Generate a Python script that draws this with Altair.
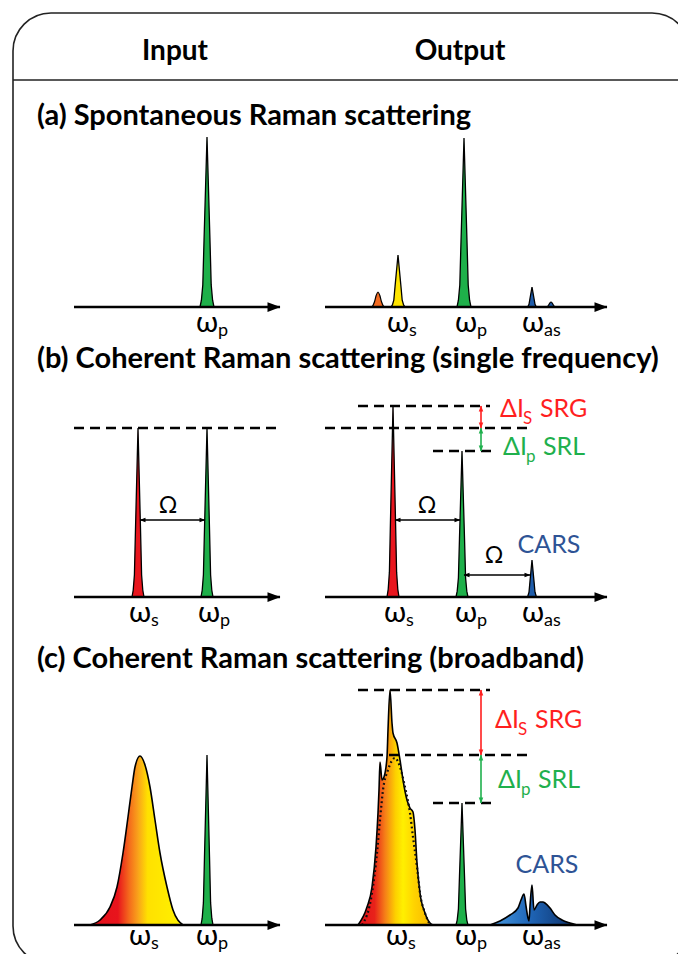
import altair as alt
import pandas as pd

# ---------------- colours ----------------
RED = "#e8161e"
GREEN = "#1eb04a"
YELLOW = "#ffe500"
ORANGE = "#f36b21"
BLUE = "#1f5ca9"
TXT_RED = "#ff1f1f"
TXT_GREEN = "#1fb04d"
TXT_BLUE = "#2e5395"
FONT = "Lato, 'Open Sans', sans-serif"

# ---------------- data (positions in the figure's own pixel frame) ----------------
# narrow spectral lines: centre, top, baseline, half base width, fill
spike_centre = [207, 398, 464, 532, 138, 207, 393, 462, 532, 207, 462]
spike_top = [137, 255, 138, 287, 428, 428, 406, 451, 560, 755, 803]
spike_base = [307, 307, 307, 307, 597, 597, 597, 597, 597, 925, 925]
spike_half = [7, 7, 7, 5, 6, 6, 6, 6, 5, 6, 6]
spike_fill = [GREEN, YELLOW, GREEN, BLUE, RED, GREEN, RED, GREEN, BLUE, GREEN, GREEN]
SPIKE_DX = [-1, -0.8, -0.6, -0.42, 0, 0.42, 0.6, 0.8, 1]
SPIKE_H = [0, 0.04, 0.13, 0.4, 1, 0.4, 0.13, 0.04, 0]

# small rounded bumps
bump_centre = [378, 551]
bump_top = [292, 302]
bump_base = [307, 307]
bump_half = [7, 5]
bump_fill = [ORANGE, BLUE]
BUMP_DX = [-1, -0.75, -0.5, -0.25, 0, 0.25, 0.5, 0.75, 1]
BUMP_H = [0, 0.08, 0.35, 0.78, 1, 0.78, 0.35, 0.08, 0]

# broadband Stokes pulse (input, panel c)
stokes_in_x = [90, 100, 110, 117, 123, 128, 132, 135, 140, 145, 150, 155, 160, 167, 173, 183]
stokes_in_y = [925, 920, 907, 887, 853, 817, 787, 767, 756, 765, 787, 820, 853, 887, 910, 925]

# broadband Stokes pulse after SRG (output, panel c)
stokes_out_x = [358, 367, 372, 376, 378, 379, 380, 382, 384, 387, 388, 390, 392, 393, 397, 400,
                403, 407, 410, 413, 415, 417, 420, 425, 430, 433]
stokes_out_y = [925, 907, 887, 847, 813, 790, 762, 780, 777, 757, 730, 690, 723, 733, 743, 760,
                780, 800, 808, 812, 830, 863, 893, 913, 923, 925]

# original Stokes profile (dotted, output panel c)
stokes_ref_x = [362, 372, 377, 380, 383, 388, 395, 400, 405, 410, 413, 417, 420, 425, 430]
stokes_ref_y = [925, 893, 853, 820, 790, 770, 758, 767, 787, 813, 837, 867, 893, 913, 925]

# broadband CARS (output, panel c)
cars_x = [490, 500, 510, 518, 521, 524, 526, 528, 529, 530, 532, 534, 537, 540, 543, 545,
          550, 555, 562, 570, 577]
cars_y = [925, 921, 915, 908, 900, 894, 906, 918, 921, 906, 885, 910, 905, 902, 902, 903,
          908, 915, 920, 923, 925]

# frequency axes (with arrow heads)
axis_x0 = [74, 325, 74, 325, 74, 325]
axis_x1 = [280, 607, 280, 607, 280, 607]
axis_y = [307, 307, 597, 597, 925, 925]

# dashed intensity levels
dash_x0 = [74, 358, 325, 433, 358, 325, 433]
dash_x1 = [280, 490, 527, 497, 490, 527, 497]
dash_y = [428, 406, 428, 451, 690, 755, 803]

# double-headed arrows (x0, y0, x1, y1, colour)
arr_x0 = [140, 395, 464, 481, 481, 481, 481]
arr_y0 = [520, 520, 575, 406, 428, 690, 755]
arr_x1 = [205, 460, 530, 481, 481, 481, 481]
arr_y1 = [520, 520, 575, 428, 451, 755, 803]
arr_col = ["black", "black", "black", TXT_RED, TXT_GREEN, TXT_RED, TXT_GREEN]

# texts
header_text = ["Input", "Output"]
header_x = [175, 460]
header_y = [60, 60]

title_text = ["(a) Spontaneous Raman scattering",
              "(b) Coherent Raman scattering (single frequency)",
              "(c) Coherent Raman scattering (broadband)"]
title_x = [37, 37, 37]
title_y = [125, 368, 668]

omega_x = [207, 398, 466, 533, 140, 209, 395, 466, 533, 140, 207, 397, 466, 533]
omega_y = [332, 332, 332, 332, 622, 622, 622, 622, 622, 945, 945, 945, 945, 945]
omega_sub = ["p", "s", "p", "as", "s", "p", "s", "p", "as", "s", "p", "s", "p", "as"]

big_omega_x = [168, 427, 494]
big_omega_y = [513, 513, 563]

cars_label_x = [549, 547]
cars_label_y = [553, 873]

delta_x = [500, 503, 495, 498]
delta_y = [417, 455, 728, 788]
delta_sub = ["S", "p", "S", "p"]
delta_name = ["SRG", "SRL", "SRG", "SRL"]
delta_col = [TXT_RED, TXT_GREEN, TXT_RED, TXT_GREEN]

# frame
frame_x0, frame_x1, frame_y0, frame_y1 = 13, 690, 13, 964
header_line_y = 80

# ---------------- scales ----------------
W, H = 670, 946
XS = alt.Scale(domain=[8, 8 + W], nice=False, zero=False)
YS = alt.Scale(domain=[8, 8 + H], nice=False, zero=False, reverse=True)


def X(f="x"):
    return alt.X(f"{f}:Q", scale=XS, axis=None)


def Y(f="y"):
    return alt.Y(f"{f}:Q", scale=YS, axis=None)


# ---------------- tables ----------------
spike_rows = []
for i, (c, t, b, hw, f) in enumerate(zip(spike_centre, spike_top, spike_base, spike_half, spike_fill)):
    for dx, h in zip(SPIKE_DX, SPIKE_H):
        spike_rows.append(dict(id=f"s{i}", x=c + dx * hw, y=b - (b - t) * h, base=b, fill=f))
spikes = pd.DataFrame(spike_rows)

bump_rows = []
for i, (c, t, b, hw, f) in enumerate(zip(bump_centre, bump_top, bump_base, bump_half, bump_fill)):
    for dx, h in zip(BUMP_DX, BUMP_H):
        bump_rows.append(dict(id=f"b{i}", x=c + dx * hw, y=b - (b - t) * h, base=b, fill=f))
bumps = pd.DataFrame(bump_rows)

stokes_in = pd.DataFrame(dict(x=stokes_in_x, y=stokes_in_y, base=925))
stokes_out = pd.DataFrame(dict(x=stokes_out_x, y=stokes_out_y, base=925))
stokes_ref = pd.DataFrame(dict(x=stokes_ref_x, y=stokes_ref_y))
cars = pd.DataFrame(dict(x=cars_x, y=cars_y, base=925))

axes = pd.DataFrame(dict(x=axis_x0, x2=axis_x1, y=axis_y))
dashes = pd.DataFrame(dict(x=dash_x0, x2=dash_x1, y=dash_y))
arrows = pd.DataFrame(dict(x=arr_x0, y=arr_y0, x2=arr_x1, y2=arr_y1, col=arr_col))

head_rows = []
for x1, y in zip(axis_x1, axis_y):
    head_rows.append(dict(x=x1 - 6, y=y, ang=0, size=169, col="black"))
for x0, y0, x1, y1, col in zip(arr_x0, arr_y0, arr_x1, arr_y1, arr_col):
    if y0 == y1:
        head_rows.append(dict(x=x0 + 2.5, y=y0, ang=180, size=36, col=col))
        head_rows.append(dict(x=x1 - 2.5, y=y1, ang=0, size=36, col=col))
    else:
        head_rows.append(dict(x=x0, y=y0 + 2.5, ang=270, size=36, col=col))
        head_rows.append(dict(x=x1, y=y1 - 2.5, ang=90, size=36, col=col))
heads = pd.DataFrame(head_rows)

frame = pd.DataFrame(dict(x=[frame_x0], x2=[frame_x1], y=[frame_y0], y2=[frame_y1]))
hline = pd.DataFrame(dict(x=[frame_x0], x2=[frame_x1], y=[header_line_y]))

headers = pd.DataFrame(dict(x=header_x, y=header_y, t=header_text))
titles = pd.DataFrame(dict(x=title_x, y=title_y, t=title_text))
omegas = pd.DataFrame(dict(x=omega_x, y=omega_y, t=["ω"] * len(omega_x)))
omega_subs = pd.DataFrame(dict(x=[v + 11 for v in omega_x], y=[v + 4 for v in omega_y], t=omega_sub))
bigom = pd.DataFrame(dict(x=big_omega_x, y=big_omega_y, t=["Ω"] * len(big_omega_x)))
cars_lbl = pd.DataFrame(dict(x=cars_label_x, y=cars_label_y, t=["CARS"] * 2, col=[TXT_BLUE] * 2))

dl_rows = []
for x, y, s, n, c in zip(delta_x, delta_y, delta_sub, delta_name, delta_col):
    dl_rows.append(dict(x=x, y=y, t="ΔI", col=c, fs=25))
    dl_rows.append(dict(x=x + 23, y=y + 7, t=s, col=c, fs=17))
    dl_rows.append(dict(x=x + 40, y=y, t=n, col=c, fs=25))
dlabels = pd.DataFrame(dl_rows)


def grad(stops):
    return alt.Gradient(gradient="linear", x1=0, x2=1, y1=0, y2=0,
                        stops=[alt.GradientStop(color=c, offset=o) for o, c in stops])


# ---------------- layers ----------------
layers = []

layers.append(alt.Chart(frame).mark_rect(cornerRadius=38, fill="white", fillOpacity=0,
                                         stroke="#222", strokeWidth=1.6, clip=True)
              .encode(x=X(), x2="x2", y=Y(), y2="y2"))
layers.append(alt.Chart(hline).mark_rule(color="#222", strokeWidth=1.6, clip=True)
              .encode(x=X(), x2="x2", y=Y()))

# filled spectra
layers.append(alt.Chart(stokes_in).mark_area(
    interpolate="monotone", stroke="black", strokeWidth=1.6,
    fill=grad([(0, "#e3101b"), (0.3, "#e8141c"), (0.42, "#f46a1c"), (0.52, "#f9a51a"),
               (0.62, "#ffe100"), (1, "#fff200")]))
    .encode(x=X(), y=Y(), y2="base"))
layers.append(alt.Chart(stokes_out).mark_area(
    interpolate="monotone", stroke="black", strokeWidth=1.6,
    fill=grad([(0, "#e3101b"), (0.22, "#e8221a"), (0.36, "#f57e18"), (0.5, "#fdd000"),
               (0.6, "#fff000"), (0.75, "#ffd300"), (1, "#f8b400")]))
    .encode(x=X(), y=Y(), y2="base"))
layers.append(alt.Chart(cars).mark_area(
    interpolate="monotone", stroke="black", strokeWidth=1.6,
    fill=grad([(0, "#4a9be0"), (0.45, "#1f66b8"), (1, "#0d2f66")]))
    .encode(x=X(), y=Y(), y2="base"))
layers.append(alt.Chart(stokes_ref).mark_line(
    interpolate="monotone", color="#111", strokeWidth=2.2, strokeDash=[1.8, 2.8])
    .encode(x=X(), y=Y()))

layers.append(alt.Chart(bumps).mark_area(interpolate="monotone", stroke="black", strokeWidth=1.2)
              .encode(x=X(), y=alt.Y("y:Q", scale=YS, axis=None, stack=None), y2="base",
                      detail="id:N", color=alt.Color("fill:N", scale=None)))
layers.append(alt.Chart(spikes).mark_area(interpolate="linear", stroke="black", strokeWidth=1.3)
              .encode(x=X(), y=alt.Y("y:Q", scale=YS, axis=None, stack=None), y2="base",
                      detail="id:N", color=alt.Color("fill:N", scale=None)))

# axes, dashed levels, arrows
layers.append(alt.Chart(axes).mark_rule(color="black", strokeWidth=2.6)
              .encode(x=X(), x2="x2", y=Y()))
layers.append(alt.Chart(dashes).mark_rule(color="black", strokeWidth=2.4, strokeDash=[10, 6])
              .encode(x=X(), x2="x2", y=Y()))
layers.append(alt.Chart(arrows).mark_rule(strokeWidth=1.6)
              .encode(x=X(), x2="x2", y=Y(), y2="y2", color=alt.Color("col:N", scale=None)))
layers.append(alt.Chart(heads).mark_point(shape="M -1 -0.75 L 1 0 L -1 0.75 Z", filled=True, opacity=1)
              .encode(x=X(), y=Y(), angle=alt.Angle("ang:Q", scale=None),
                      size=alt.Size("size:Q", scale=None), color=alt.Color("col:N", scale=None)))

# texts
layers.append(alt.Chart(headers).mark_text(font=FONT, fontWeight="bold", fontSize=28, align="center",
                                           baseline="alphabetic", color="black")
              .encode(x=X(), y=Y(), text="t:N"))
layers.append(alt.Chart(titles).mark_text(font=FONT, fontWeight="bold", fontSize=29, align="left",
                                          baseline="alphabetic", color="black")
              .encode(x=X(), y=Y(), text="t:N"))
layers.append(alt.Chart(omegas).mark_text(font=FONT, fontSize=29, align="center",
                                          baseline="alphabetic", color="black")
              .encode(x=X(), y=Y(), text="t:N"))
layers.append(alt.Chart(omega_subs).mark_text(font=FONT, fontSize=18, align="left",
                                              baseline="alphabetic", color="black")
              .encode(x=X(), y=Y(), text="t:N"))
layers.append(alt.Chart(bigom).mark_text(font=FONT, fontSize=23, align="center",
                                         baseline="alphabetic", color="black")
              .encode(x=X(), y=Y(), text="t:N"))
layers.append(alt.Chart(cars_lbl).mark_text(font=FONT, fontSize=25, align="center",
                                            baseline="alphabetic")
              .encode(x=X(), y=Y(), text="t:N", color=alt.Color("col:N", scale=None)))
layers.append(alt.Chart(dlabels).mark_text(font=FONT, align="left", baseline="alphabetic")
              .encode(x=X(), y=Y(), text="t:N", color=alt.Color("col:N", scale=None),
                      size=alt.Size("fs:Q", scale=None)))

chart = alt.layer(*layers).properties(
    width=W, height=H, padding=0, autosize=alt.AutoSizeParams(type="none"),
    background="white"
).configure_view(stroke=None)

chart.save("out.html", embed_options={"renderer": "svg", "actions": False})
